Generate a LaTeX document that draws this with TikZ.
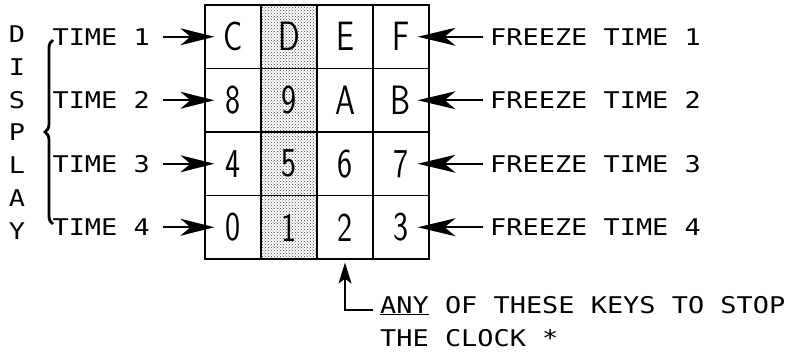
\documentclass[tikz,border=0pt]{standalone}
\usepackage{fontspec}
\usetikzlibrary{arrows.meta,patterns,decorations.pathreplacing}
\newfontfamily\lettering[FakeStretch=1.17]{DejaVu Sans Mono}
\newfontfamily\keyface[FakeStretch=0.78]{Latin Modern Sans}
\tikzset{
  cell/.style={draw, line width=1.2pt, minimum width=56pt, minimum height=63.5pt, inner sep=0pt, font=\keyface\fontsize{41}{41}\selectfont},
  shaded/.style={cell, pattern=crosshatch dots, pattern color=black!75},
  lbl/.style={inner sep=0pt, font=\lettering\fontsize{23}{23}\selectfont},
  tptr/.style={-{Stealth[length=34pt,width=17pt,inset=10pt]}, line width=1.6pt, shorten <=13pt, shorten >=-10pt},
  fptr/.style={-{Stealth[length=38pt,width=18pt,inset=11pt]}, line width=1.6pt, shorten <=7pt, shorten >=-12pt},
  stopptr/.style={-{Stealth[length=21pt,width=13pt,inset=5pt]}, line width=1.6pt, shorten >=3pt},
}
\begin{document}
\begin{tikzpicture}[x=1pt, y=-1pt]
  \useasboundingbox (0,0) rectangle (789,351);

  % keypad, second column shaded
  \node[cell]   (kC) at (233, 36.75) {C};
  \node[shaded] (kD) at (289, 36.75) {D};
  \node[cell]   (kE) at (345, 36.75) {E};
  \node[cell]   (kF) at (401, 36.75) {F};
  \node[cell]   (k8) at (233,100.25) {8};
  \node[shaded] (k9) at (289,100.25) {9};
  \node[cell]   (kA) at (345,100.25) {A};
  \node[cell]   (kB) at (401,100.25) {B};
  \node[cell]   (k4) at (233,163.75) {4};
  \node[shaded] (k5) at (289,163.75) {5};
  \node[cell]   (k6) at (345,163.75) {6};
  \node[cell]   (k7) at (401,163.75) {7};
  \node[cell]   (k0) at (233,227.25) {0};
  \node[shaded] (k1) at (289,227.25) {1};
  \node[cell]   (k2) at (345,227.25) {2};
  \node[cell]   (k3) at (401,227.25) {3};

  % DISPLAY down the left edge
  \node[lbl] (dD) at (17, 34) {D};
  \node[lbl] (dI) at (17, 67) {I};
  \node[lbl] (dS) at (17,100) {S};
  \node[lbl] (dP) at (17,132) {P};
  \node[lbl] (dL) at (17,165) {L};
  \node[lbl] (dA) at (17,198) {A};
  \node[lbl] (dY) at (17,231) {Y};
  \draw[line width=2.8pt, decorate, decoration={brace, amplitude=8pt}] (53,224) -- (53,40);

  % time labels
  \node[lbl, anchor=east] (t1) at (150, 36.75) {TIME 1};
  \node[lbl, anchor=east] (t2) at (150,100.25) {TIME 2};
  \node[lbl, anchor=east] (t3) at (150,163.75) {TIME 3};
  \node[lbl, anchor=east] (t4) at (150,227.25) {TIME 4};
  \draw[tptr] (t1.east) -- (kC.west);
  \draw[tptr] (t2.east) -- (k8.west);
  \draw[tptr] (t3.east) -- (k4.west);
  \draw[tptr] (t4.east) -- (k0.west);

  % freeze labels
  \node[lbl, anchor=west] (f1) at (490, 36.75) {FREEZE TIME 1};
  \node[lbl, anchor=west] (f2) at (490,100.25) {FREEZE TIME 2};
  \node[lbl, anchor=west] (f3) at (490,163.75) {FREEZE TIME 3};
  \node[lbl, anchor=west] (f4) at (490,227.25) {FREEZE TIME 4};
  \draw[fptr] (f1.west) -- (kF.east);
  \draw[fptr] (f2.west) -- (kB.east);
  \draw[fptr] (f3.west) -- (k7.east);
  \draw[fptr] (f4.west) -- (k3.east);

  % stop note
  \node[lbl, anchor=base west] (anytxt) at (380,313) {\underline{ANY} OF THESE KEYS TO STOP};
  \node[lbl, anchor=base west] (clocktxt) at (380,346) {THE CLOCK *};
  \draw[stopptr] ([xshift=-7pt, yshift=3pt]anytxt.base west) -| (k2.south);
\end{tikzpicture}
\end{document}
